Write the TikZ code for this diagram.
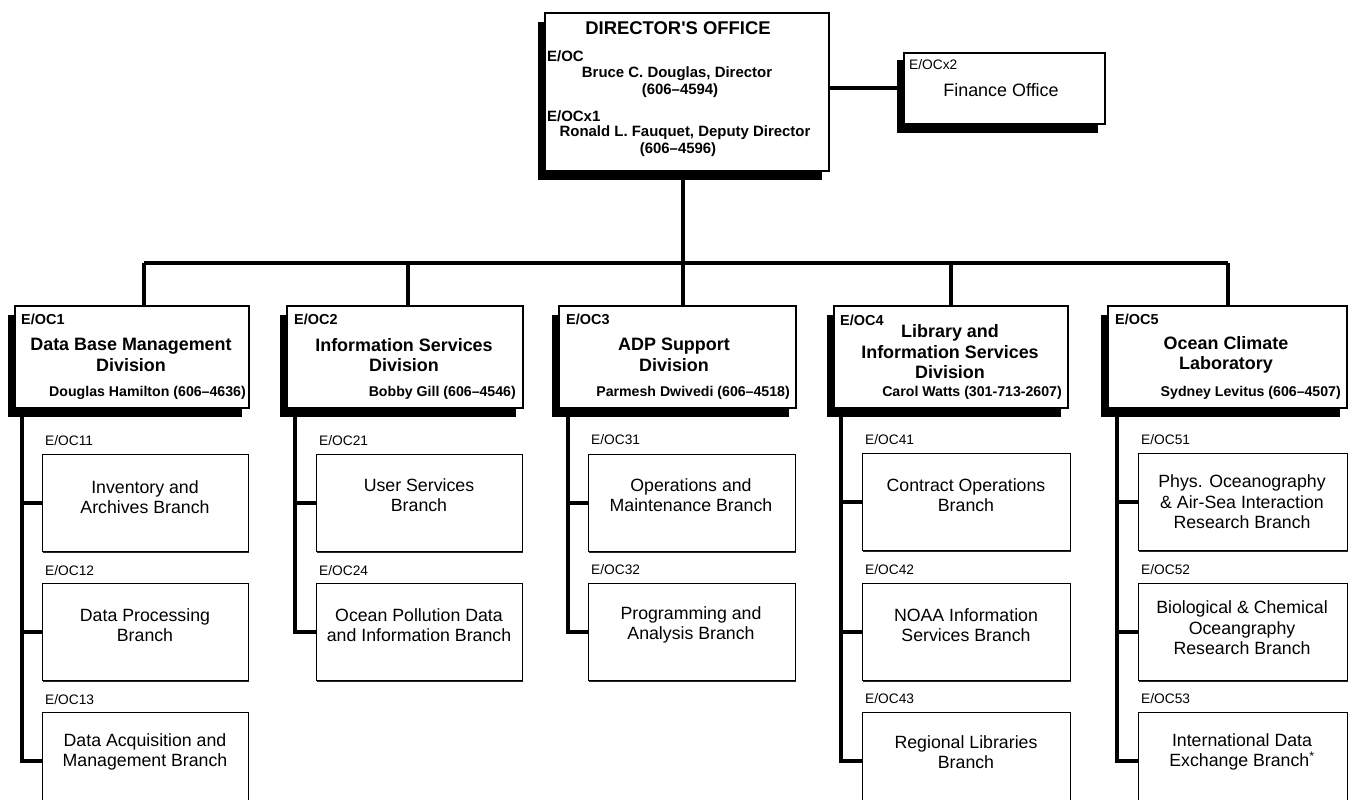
\documentclass[tikz,border=0pt]{standalone}
\usepackage{fontspec}
\setmainfont{Liberation Sans}
\usetikzlibrary{shadows,backgrounds}
\begin{document}
\begin{tikzpicture}[x=1bp,y=-1bp,
  bigbox/.style={draw=black, line width=1.6bp, fill=white, inner sep=0, anchor=north west,
     drop shadow={shadow xshift=-7bp, shadow yshift=-9bp, fill=black, opacity=1}},
  smallbox/.style={draw=black, line width=1.4bp, fill=white, inner sep=0, anchor=north west,
     minimum height=97bp,
     drop shadow={shadow xshift=0.3bp, shadow yshift=-1.4bp, fill=black, opacity=0.85}},
  conn/.style={line width=4.2bp, black, line join=miter},
  dtitle/.style={font=\bfseries\fontsize{18}{20.5}\selectfont, align=center, inner sep=0},
  dname/.style={font=\bfseries\fontsize{14.2}{16}\selectfont, inner sep=0, anchor=east},
  dcode/.style={font=\bfseries\fontsize{14.5}{16}\selectfont, inner sep=0, anchor=west},
  bcode/.style={font=\fontsize{13.8}{16}\selectfont, inner sep=0, anchor=west},
  btext/.style={font=\fontsize{17.8}{20.5}\selectfont, align=center, inner sep=0},
  pname/.style={font=\bfseries\fontsize{15}{17}\selectfont, inner sep=0}
]
\useasboundingbox (0,0) rectangle (1357,799);
\clip (0,0) rectangle (1357,799);

% Director's office
\node[bigbox, minimum width=284bp, minimum height=158bp] (dir) at (544,12) {};
\node[dtitle, font=\bfseries\fontsize{18.5}{20}\selectfont] (dirT) at (678,28) {DIRECTOR\textquotesingle S OFFICE};
\node[dcode, font=\bfseries\fontsize{15}{17}\selectfont] (dirC) at (547,56) {E/OC};
\node[pname] (dirN1) at (677,74) {Bruce C. Douglas, Director};
\node[pname] (dirP1) at (680,91) {(606--4594)};
\node[dcode, font=\bfseries\fontsize{15}{17}\selectfont] (dirC2) at (547,116) {E/OCx1};
\node[pname] (dirN2) at (685,133) {Ronald L. Fauquet, Deputy Director};
\node[pname] (dirP2) at (678,150) {(606--4596)};

% Finance office
\node[bigbox, minimum width=201bp, minimum height=71bp,
  drop shadow={shadow xshift=-7bp, shadow yshift=-7bp, fill=black, opacity=1}] (fin) at (903,52) {};
\node[bcode] (finC) at (909,65) {E/OCx2};
\node[btext, font=\fontsize{18}{20}\selectfont] (finT) at (1001,90) {Finance Office};

% Divisions
\node[bigbox, minimum width=234bp, minimum height=102bp] (d1) at (14,305) {};
\node[bigbox, minimum width=236bp, minimum height=102bp] (d2) at (286,305) {};
\node[bigbox, minimum width=237bp, minimum height=102bp] (d3) at (558,305) {};
\node[bigbox, minimum width=234bp, minimum height=102bp] (d4) at (833,305) {};
\node[bigbox, minimum width=239bp, minimum height=102bp] (d5) at (1107,305) {};

\node[dcode] (d1c) at (21,319) {E/OC1};
\node[dtitle] (d1t) at (131,355) {Data Base Management\\Division};
\node[dname] (d1n) at (246,393) {Douglas Hamilton (606--4636)};

\node[dcode] (d2c) at (294,319) {E/OC2};
\node[dtitle] (d2t) at (404,355) {Information Services\\Division};
\node[dname] (d2n) at (516,393) {Bobby Gill (606--4546)};

\node[dcode] (d3c) at (566,319) {E/OC3};
\node[dtitle] (d3t) at (674,355) {ADP Support\\Division};
\node[dname] (d3n) at (790,393) {Parmesh Dwivedi (606--4518)};

\node[dcode] (d4c) at (840,320) {E/OC4};
\node[dtitle] (d4t) at (950,352) {Library and\\Information Services\\Division};
\node[dname] (d4n) at (1062,393) {Carol Watts (301-713-2607)};

\node[dcode] (d5c) at (1115,319) {E/OC5};
\node[dtitle] (d5t) at (1226,355) {Ocean Climate\\Laboratory};
\node[dname] (d5n) at (1341,393) {Sydney Levitus (606--4507)};

% Branch boxes
\node[smallbox, minimum width=206bp] (b11) at (42,454) {};
\node[smallbox, minimum width=206bp] (b12) at (42,583) {};
\node[smallbox, minimum width=206bp] (b13) at (42,712) {};
\node[smallbox, minimum width=206bp] (b21) at (316,454) {};
\node[smallbox, minimum width=206bp] (b24) at (316,583) {};
\node[smallbox, minimum width=207bp] (b31) at (588,454) {};
\node[smallbox, minimum width=207bp] (b32) at (588,583) {};
\node[smallbox, minimum width=208bp] (b41) at (862,453) {};
\node[smallbox, minimum width=208bp] (b42) at (862,583) {};
\node[smallbox, minimum width=208bp] (b43) at (862,712) {};
\node[smallbox, minimum width=209bp] (b51) at (1138,453) {};
\node[smallbox, minimum width=209bp] (b52) at (1138,583) {};
\node[smallbox, minimum width=209bp] (b53) at (1138,712) {};

% Branch codes
\node[bcode] (c11) at (45,441) {E/OC11};
\node[bcode] (c12) at (45,571) {E/OC12};
\node[bcode] (c13) at (45,700) {E/OC13};
\node[bcode] (c21) at (319,441) {E/OC21};
\node[bcode] (c24) at (319,571) {E/OC24};
\node[bcode] (c31) at (591,440) {E/OC31};
\node[bcode] (c32) at (591,570) {E/OC32};
\node[bcode] (c41) at (865,440) {E/OC41};
\node[bcode] (c42) at (865,570) {E/OC42};
\node[bcode] (c43) at (865,699) {E/OC43};
\node[bcode] (c51) at (1141,440) {E/OC51};
\node[bcode] (c52) at (1141,570) {E/OC52};
\node[bcode] (c53) at (1141,699) {E/OC53};

% Branch texts
\node[btext] (t11) at (145,497) {Inventory and\\Archives Branch};
\node[btext] (t12) at (145,625) {Data Processing\\Branch};
\node[btext] (t13) at (145,752) {Data Acquisition and\\Management Branch};
\node[btext] (t21) at (419,495) {User Services\\Branch};
\node[btext] (t24) at (419,625) {Ocean Pollution Data\\and Information Branch};
\node[btext] (t31) at (691,495) {Operations and\\Maintenance Branch};
\node[btext] (t32) at (691,625) {Programming and\\Analysis Branch};
\node[btext] (t41) at (966,495) {Contract Operations\\Branch};
\node[btext] (t42) at (966,625) {NOAA Information\\Services Branch};
\node[btext] (t43) at (966,752) {Regional Libraries\\Branch};
\node[btext] (t51) at (1242,502) {Phys. Oceanography\\\& Air-Sea Interaction\\Research Branch};
\node[btext] (t52) at (1242,628) {Biological \& Chemical\\Oceangraphy\\Research Branch};
\node[btext] (t53) at (1242,752) {International Data\\Exchange Branch\textsuperscript{*}};

% connector coordinates
\coordinate (bus) at (683,263);
\coordinate (v1) at (144,305);
\coordinate (v2) at (408,305);
\coordinate (v3) at (683,305);
\coordinate (v4) at (951,305);
\coordinate (v5) at (1228,305);
\coordinate (s1) at (22,410);
\coordinate (s2) at (295,410);
\coordinate (s3) at (568,410);
\coordinate (s4) at (841,410);
\coordinate (s5) at (1117,410);

\begin{pgfonlayer}{background}
\draw[conn] (fin.west -| dir.east) -- (fin.west);
\draw[conn] (bus |- dir.south) -- (bus);
\draw[conn, line width=4.8bp] (v1 |- bus) -- (v5 |- bus);
\foreach \v in {v1,v2,v3,v4,v5} \draw[line width=3.6bp] (\v |- bus) -- (\v);
% spines
\draw[conn] (s1) -- (s1 |- b13.west) -- (b13.west);
\draw[conn] (s1 |- b11.west) -- (b11.west);
\draw[conn] (s1 |- b12.west) -- (b12.west);
\draw[conn] (s2) -- (s2 |- b24.west) -- (b24.west);
\draw[conn] (s2 |- b21.west) -- (b21.west);
\draw[conn] (s3) -- (s3 |- b32.west) -- (b32.west);
\draw[conn] (s3 |- b31.west) -- (b31.west);
\draw[conn] (s4) -- (s4 |- b43.west) -- (b43.west);
\draw[conn] (s4 |- b41.west) -- (b41.west);
\draw[conn] (s4 |- b42.west) -- (b42.west);
\draw[conn] (s5) -- (s5 |- b53.west) -- (b53.west);
\draw[conn] (s5 |- b51.west) -- (b51.west);
\draw[conn] (s5 |- b52.west) -- (b52.west);
\end{pgfonlayer}
\end{tikzpicture}
\end{document}
